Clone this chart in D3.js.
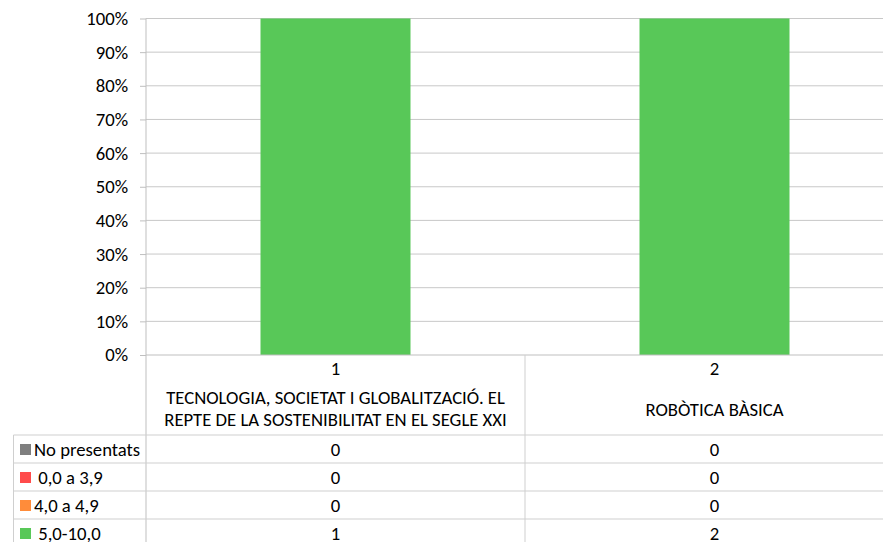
<!DOCTYPE html>
<html>
<head>
<meta charset="utf-8">
<script src="https://cdn.jsdelivr.net/npm/d3@7"></script>
<style>
  html, body { margin: 0; padding: 0; background: #fff; }
  svg { display: block; font-family: Carlito, Lato, "Open Sans", sans-serif; }
</style>
</head>
<body>
<svg id="chart" width="883" height="542"></svg>
<script>
// Course numbers and names
const courseIds = ["1", "2"];
const courseNames = [
  ["TECNOLOGIA, SOCIETAT I GLOBALITZACIÓ. EL", "REPTE DE LA SOSTENIBILITAT EN EL SEGLE XXI"],
  ["ROBÒTICA BÀSICA"]
];
// Grade bands, in stacking order (first one sits at the bottom)
const bands = ["No presentats", "0,0 a 3,9", "4,0 a 4,9", "5,0-10,0"];
const bandColors = ["#7f7f7f", "#ff4b4b", "#ff8c3a", "#58c858"];
const bandLabelPrefix = ["", " ", "", " "];
// Student counts per band, per course
const noPresentats = [0, 0];
const suspesos = [0, 0];
const entre4i5 = [0, 0];
const aprovats = [1, 2];
const yTicks = [0, 0.1, 0.2, 0.3, 0.4, 0.5, 0.6, 0.7, 0.8, 0.9, 1];

const counts = [noPresentats, suspesos, entre4i5, aprovats];
const FS = 18.7;

const svg = d3.select("#chart");
const plotLeft = 146, plotTop = 18.5, plotBottom = 355;
const bandW = 379;
const plotRight = plotLeft + bandW * courseIds.length;

const x = d3.scaleBand().domain(courseIds).range([plotLeft, plotRight]).paddingInner(0).paddingOuter(0);
const y = d3.scaleLinear().domain([0, 1]).range([plotBottom, plotTop]);

// Gridlines
svg.append("g").selectAll("line").data(yTicks.slice(1)).join("line")
  .attr("x1", plotLeft).attr("x2", plotRight)
  .attr("y1", d => y(d)).attr("y2", d => y(d))
  .attr("stroke", "#c8c8c8").attr("stroke-width", 1);

// Stacked percentage bars
const rows = courseIds.map((id, i) => {
  const o = { id };
  const total = d3.sum(counts, c => c[i]);
  bands.forEach((b, j) => { o[b] = total ? counts[j][i] / total : 0; });
  return o;
});
const stack = d3.stack().keys(bands)(rows);
const barW = 150;
svg.append("g").selectAll("g").data(stack).join("g")
  .attr("fill", (d, i) => bandColors[i])
  .selectAll("rect").data(d => d).join("rect")
  .attr("x", d => x(d.data.id) + x.bandwidth() / 2 - barW / 2)
  .attr("width", barW)
  .attr("y", d => y(d[1]))
  .attr("height", d => y(d[0]) - y(d[1]));

// Y axis
const yAxis = d3.axisLeft(y).tickValues(yTicks).tickFormat(d3.format(".0%")).tickSize(6).tickPadding(12);
const ga = svg.append("g").attr("transform", `translate(${plotLeft},0)`).call(yAxis);
ga.select(".domain").remove();
ga.selectAll(".tick line").attr("stroke", "#bfbfbf");
ga.selectAll(".tick text").attr("font-size", FS).attr("fill", "#000")
  .attr("font-family", "Carlito, Lato, 'Open Sans', sans-serif");

// Baseline and vertical axis line
svg.append("line").attr("x1", plotLeft).attr("x2", plotRight).attr("y1", plotBottom).attr("y2", plotBottom)
  .attr("stroke", "#bfbfbf");
svg.append("line").attr("x1", plotLeft).attr("x2", plotLeft).attr("y1", plotTop).attr("y2", 542)
  .attr("stroke", "#bfbfbf");

// Data table below the plot
const tableTop = 435, rowH = 28, legendLeft = 13.5;
courseIds.slice(1).forEach(id => {
  svg.append("line").attr("x1", x(id)).attr("x2", x(id)).attr("y1", plotBottom).attr("y2", 542)
    .attr("stroke", "#cfcfcf");
});
d3.range(bands.length).forEach(r => {
  svg.append("line").attr("x1", legendLeft).attr("x2", plotRight)
    .attr("y1", tableTop + r * rowH).attr("y2", tableTop + r * rowH)
    .attr("stroke", "#cfcfcf");
});
svg.append("line").attr("x1", legendLeft).attr("x2", legendLeft).attr("y1", tableTop).attr("y2", 542)
  .attr("stroke", "#cfcfcf");

// Category labels
courseIds.forEach((id, i) => {
  const cx = x(id) + x.bandwidth() / 2;
  svg.append("text").attr("x", cx).attr("y", 375).attr("text-anchor", "middle")
    .attr("font-size", FS).text(id);
  const lines = courseNames[i];
  const startY = lines.length === 1 ? 416 : 404;
  lines.forEach((ln, k) => {
    svg.append("text").attr("x", cx).attr("y", startY + k * 22).attr("text-anchor", "middle")
      .attr("font-size", FS).text(ln);
  });
});

// Legend entries and values
bands.forEach((b, r) => {
  const cy = tableTop + r * rowH + rowH / 2;
  svg.append("rect").attr("x", 20).attr("y", cy - 5).attr("width", 11).attr("height", 11)
    .attr("fill", bandColors[r]);
  svg.append("text").attr("x", 34).attr("y", cy + 6.5).attr("font-size", FS)
    .attr("xml:space", "preserve").style("white-space", "pre")
    .text(bandLabelPrefix[r] + b);
  courseIds.forEach((id, i) => {
    svg.append("text").attr("x", x(id) + x.bandwidth() / 2).attr("y", cy + 6.5)
      .attr("text-anchor", "middle").attr("font-size", FS).text(counts[r][i]);
  });
});
</script>
</body>
</html>
